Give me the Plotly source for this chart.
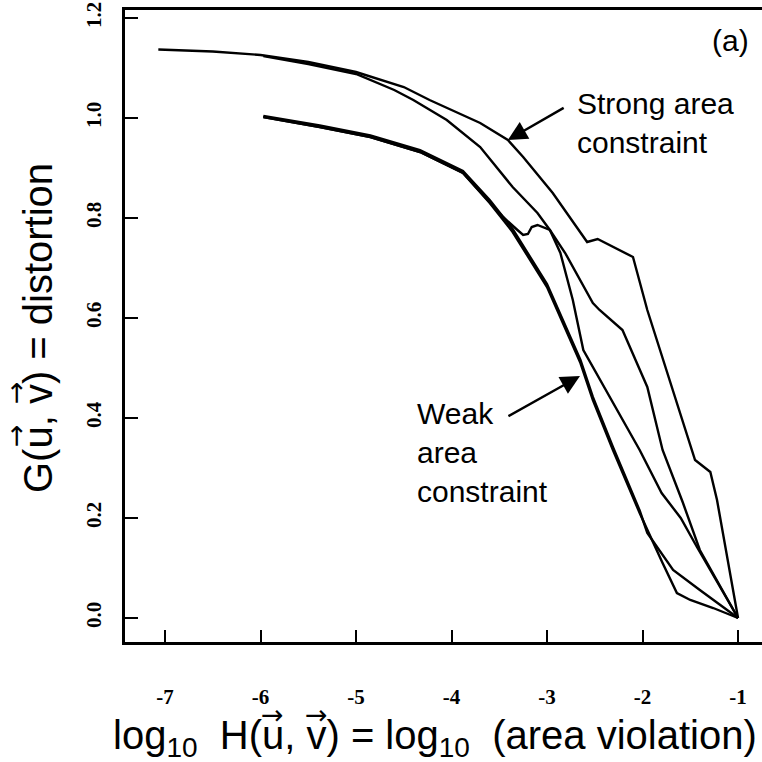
import plotly.graph_objects as go

# ---- data ----
strong_x = [-7.07, -6.5, -6.0, -5.5, -5.0, -4.5, -4.23, -3.7, -3.41, -3.25, -2.94, -2.58, -2.47, -2.10, -1.95, -1.45, -1.29, -1.22, -1.0]
strong_y = [1.137, 1.133, 1.126, 1.112, 1.092, 1.062, 1.036, 0.99, 0.956, 0.922, 0.85, 0.752, 0.758, 0.722, 0.616, 0.316, 0.292, 0.236, 0.0]

mid_x = [-5.97, -5.5, -5.0, -4.6, -4.4, -4.05, -3.70, -3.36, -3.10, -2.97, -2.81, -2.52, -2.45, -2.21, -1.95, -1.79, -1.58, -1.40, -1.0]
mid_y = [1.124, 1.108, 1.088, 1.056, 1.036, 0.996, 0.942, 0.862, 0.81, 0.776, 0.73, 0.63, 0.616, 0.576, 0.462, 0.336, 0.232, 0.136, 0.0]

wiggle_x = [-5.97, -5.38, -4.85, -4.33, -3.88, -3.60, -3.46, -3.31, -3.25, -3.20, -3.16, -3.10, -2.97, -2.86, -2.73, -2.62, -2.37, -2.03, -1.80, -1.60, -1.43, -1.0]
wiggle_y = [1.002, 0.982, 0.962, 0.932, 0.89, 0.83, 0.802, 0.776, 0.766, 0.768, 0.782, 0.786, 0.776, 0.73, 0.636, 0.536, 0.45, 0.336, 0.25, 0.2, 0.142, 0.0]

weak1_x = [-5.97, -5.38, -4.85, -4.33, -3.88, -3.60, -3.36, -3.0, -2.65, -2.52, -2.31, -2.03, -1.79, -1.64, -1.50, -1.26, -1.0]
weak1_y = [1.002, 0.982, 0.962, 0.932, 0.89, 0.83, 0.772, 0.662, 0.51, 0.436, 0.336, 0.21, 0.11, 0.05, 0.036, 0.02, 0.0]

weak2_x = [-5.97, -5.38, -4.85, -4.33, -3.88, -3.60, -3.36, -3.0, -2.65, -2.52, -2.31, -2.03, -1.95, -1.68, -1.40, -1.0]
weak2_y = [1.004, 0.985, 0.965, 0.936, 0.894, 0.836, 0.778, 0.668, 0.516, 0.442, 0.342, 0.215, 0.17, 0.096, 0.056, 0.0]

x_ticks = [-7, -6, -5, -4, -3, -2, -1]
x_tick_labels = ["-7", "-6", "-5", "-4", "-3", "-2", "-1"]
y_ticks = [0.0, 0.2, 0.4, 0.6, 0.8, 1.0, 1.2]
y_tick_labels = ["0.0", "0.2", "0.4", "0.6", "0.8", "1.0", "1.2"]

x_title = "log<sub>10</sub>  H(u, v) = log<sub>10</sub>  (area violation)"
y_title = "G(u, v) = distortion"

# plot-area geometry in pixels (used to place titles / arrows in paper coords)
PL, PR, PT, PB = 125, 762, 10, 642
def px(xp):
    return (xp - PL) / (PR - PL)
def py(yp):
    return (PB - yp) / (PB - PT)

fig = go.Figure()
line_style = dict(color="black", width=2.4)
for xs, ys, nm in [(strong_x, strong_y, "strong"), (mid_x, mid_y, "mid"),
                   (wiggle_x, wiggle_y, "wiggle"), (weak1_x, weak1_y, "weak1"),
                   (weak2_x, weak2_y, "weak2")]:
    fig.add_trace(go.Scatter(x=xs, y=ys, mode="lines", line=line_style, name=nm,
                             showlegend=False, hoverinfo="skip"))

txt_font = dict(family="Liberation Sans, Arial, sans-serif", size=30, color="black")
title_font = dict(family="Liberation Sans, Arial, sans-serif", size=40, color="black")
arrow_font = dict(family="DejaVu Sans, sans-serif", size=27, color="black")

annotations = [
    dict(x=-1.084, y=1.156, xref="x", yref="y", text="(a)", showarrow=False,
         font=txt_font, xanchor="center", yanchor="middle"),
    dict(x=-2.707, y=0.99, xref="x", yref="y", text="Strong area<br>constraint",
         showarrow=False, font=txt_font, xanchor="left", yanchor="middle", align="left"),
    dict(x=-4.382, y=0.332, xref="x", yref="y", text="Weak<br>area<br>constraint",
         showarrow=False, font=txt_font, xanchor="left", yanchor="middle", align="left"),
    dict(x=-3.41, y=0.956, xref="x", yref="y", ax=-2.81, ay=1.022, axref="x", ayref="y",
         text="", showarrow=True, arrowhead=2, arrowsize=1.6, arrowwidth=2.4, arrowcolor="black"),
    dict(x=-2.655, y=0.484, xref="x", yref="y", ax=-3.42, ay=0.402, axref="x", ayref="y",
         text="", showarrow=True, arrowhead=2, arrowsize=1.6, arrowwidth=2.4, arrowcolor="black"),
    # x-axis title
    dict(x=px(111), y=py(738), xref="paper", yref="paper", text=x_title, showarrow=False,
         font=title_font, xanchor="left", yanchor="middle"),
    # vector arrows over u and v in x title
    dict(x=px(272), y=py(714), xref="paper", yref="paper", text="\u2192", showarrow=False,
         font=arrow_font, xanchor="center", yanchor="middle"),
    dict(x=px(316), y=py(714), xref="paper", yref="paper", text="\u2192", showarrow=False,
         font=arrow_font, xanchor="center", yanchor="middle"),
    # y-axis title
    dict(x=px(38), y=py(328), xref="paper", yref="paper", text=y_title, showarrow=False,
         font=title_font, textangle=-90, xanchor="center", yanchor="middle"),
    dict(x=px(15), y=py(436), xref="paper", yref="paper", text="\u2192", showarrow=False,
         font=arrow_font, textangle=-90, xanchor="center", yanchor="middle"),
    dict(x=px(15), y=py(393), xref="paper", yref="paper", text="\u2192", showarrow=False,
         font=arrow_font, textangle=-90, xanchor="center", yanchor="middle"),
]

tick_font = dict(family="Liberation Serif, Times New Roman, serif", size=21, color="black", weight="bold")

fig.update_layout(
    width=762, height=762,
    margin=dict(l=PL, r=762 - PR, t=PT, b=762 - PB),
    paper_bgcolor="white", plot_bgcolor="white",
    annotations=annotations,
    xaxis=dict(
        range=[-7.419, -0.749], tickvals=x_ticks, ticktext=x_tick_labels,
        ticks="inside", ticklen=12, tickwidth=2, tickcolor="black",
        showline=True, linecolor="black", linewidth=2.5, mirror=True,
        showgrid=False, zeroline=False, tickfont=tick_font,
        ticklabelstandoff=34,
    ),
    yaxis=dict(
        range=[-0.048, 1.216], tickvals=y_ticks, ticktext=y_tick_labels,
        ticks="inside", ticklen=13, tickwidth=2, tickcolor="black",
        showline=True, linecolor="black", linewidth=2.5, mirror=False,
        showgrid=False, zeroline=False, tickfont=tick_font, tickangle=-90,
        ticklabelstandoff=13,
    ),
)

fig.write_html("out.html")
